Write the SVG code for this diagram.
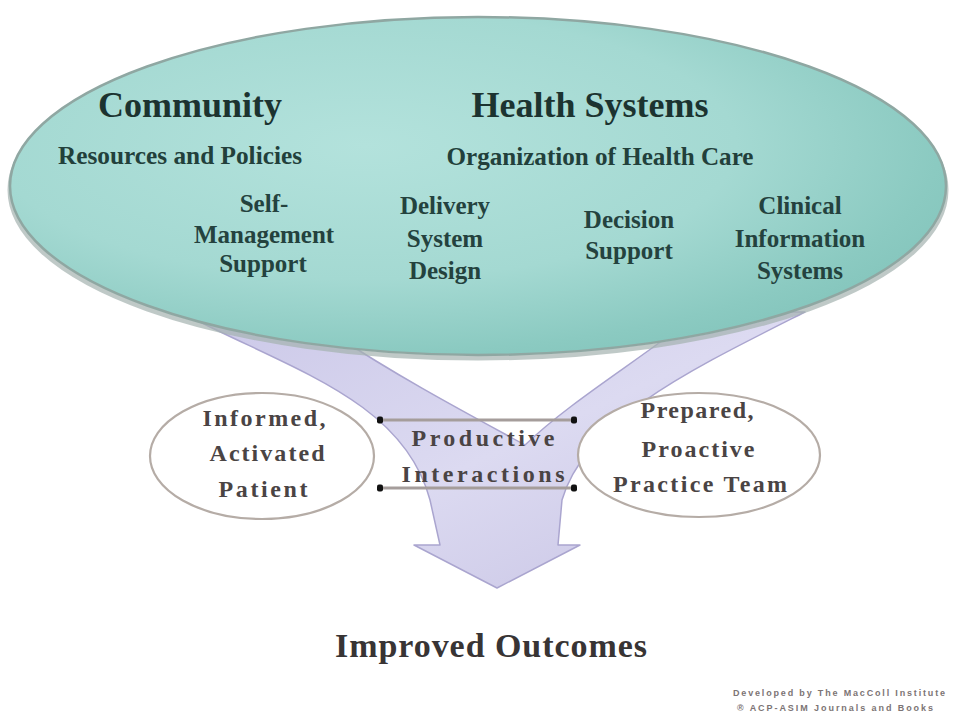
<svg xmlns="http://www.w3.org/2000/svg" width="953" height="715" viewBox="0 0 953 715">
  <defs>
    <radialGradient id="tealFill" cx="0.38" cy="0.38" r="0.72">
      <stop offset="0" stop-color="#b3e2dc"/>
      <stop offset="0.55" stop-color="#a4d9d2"/>
      <stop offset="0.85" stop-color="#8bcac1"/>
      <stop offset="0.97" stop-color="#84c5bc"/>
      <stop offset="1" stop-color="#a6d9d3"/>
    </radialGradient>
    <linearGradient id="lavFill" x1="0" y1="0" x2="1" y2="1">
      <stop offset="0" stop-color="#cbc8e8"/>
      <stop offset="0.5" stop-color="#dcdaf1"/>
      <stop offset="1" stop-color="#c6c2e3"/>
    </linearGradient>
    <marker id="dot" viewBox="0 0 8 8" refX="4" refY="4" markerWidth="8" markerHeight="8" markerUnits="userSpaceOnUse">
      <rect x="1" y="0.5" width="6" height="7" rx="2" fill="#111"/>
    </marker>
    <style>
      .head { font-family: "Liberation Serif", "Times New Roman", serif; font-weight: bold; fill: #1c3330; }
      .sub { font-family: "Liberation Serif", "Times New Roman", serif; font-weight: bold; fill: #22403b; font-size: 26px; }
      .inner { font-family: "Liberation Serif", "Times New Roman", serif; font-weight: bold; fill: #24423e; font-size: 25px; text-anchor: middle; }
      .oval { fill: #ffffff; stroke: #b5aca6; stroke-width: 2.2; }
      .lab { font-family: "Liberation Serif", "Times New Roman", serif; font-weight: bold; fill: #4a4444; font-size: 24px; text-anchor: middle; }
      .link { stroke: #a59d9b; stroke-width: 3; fill: none; marker-start: url(#dot); marker-end: url(#dot); }
      .foot { font-family: "Liberation Sans", Arial, sans-serif; font-size: 9px; font-weight: bold; fill: #7c7474; }
    </style>
  </defs>

  <rect width="953" height="715" fill="#ffffff"/>

  <!-- converging flow arrow, partly hidden under the top oval -->
  <g id="flow-arrow">
    <path d="M 200 322 C 300 372, 405 405, 430 500 L 440 545 L 414 545 L 497 588 L 580 545 L 558 545 L 562 500 C 585 420, 690 370, 805 312 L 700 312 C 640 360, 572 400, 525 445 C 470 415, 400 378, 335 335 Z"
          fill="url(#lavFill)" stroke="#aaa5cf" stroke-width="1.5" stroke-linejoin="round"/>
  </g>

  <!-- top oval: community and health systems -->
  <g id="systems">
    <ellipse cx="478" cy="190" rx="468" ry="168" fill="none" stroke="#a4b2af" stroke-width="5" opacity="0.7"/>
    <ellipse cx="478" cy="186" rx="468" ry="169" fill="url(#tealFill)" stroke="#8fa7a2" stroke-width="2.5"/>
    <text class="head" x="190" y="117" font-size="36" text-anchor="middle" textLength="184" lengthAdjust="spacingAndGlyphs">Community</text>
    <text class="head" x="590" y="117" font-size="36" text-anchor="middle" textLength="237" lengthAdjust="spacingAndGlyphs">Health Systems</text>
    <text class="sub" x="180" y="164" text-anchor="middle" textLength="244" lengthAdjust="spacingAndGlyphs">Resources and Policies</text>
    <text class="sub" x="600" y="165" text-anchor="middle" textLength="307" lengthAdjust="spacingAndGlyphs">Organization of Health Care</text>
  </g>

  <g id="self-management">
    <text class="inner" x="264" y="212">Self-</text>
    <text class="inner" x="264" y="243">Management</text>
    <text class="inner" x="263" y="272">Support</text>
  </g>
  <g id="delivery-system">
    <text class="inner" x="445" y="214">Delivery</text>
    <text class="inner" x="445" y="247">System</text>
    <text class="inner" x="445" y="279">Design</text>
  </g>
  <g id="decision-support">
    <text class="inner" x="629" y="228">Decision</text>
    <text class="inner" x="629" y="259">Support</text>
  </g>
  <g id="clinical-info">
    <text class="inner" x="800" y="214">Clinical</text>
    <text class="inner" x="800" y="247">Information</text>
    <text class="inner" x="800" y="279">Systems</text>
  </g>

  <!-- patient and practice team ovals -->
  <g id="patient">
    <ellipse class="oval" cx="262" cy="456" rx="112" ry="63"/>
    <text class="lab" x="264" y="426" textLength="123">Informed,</text>
    <text class="lab" x="267" y="461" textLength="115">Activated</text>
    <text class="lab" x="263" y="497" textLength="89">Patient</text>
  </g>
  <g id="practice-team">
    <ellipse class="oval" cx="699" cy="455" rx="121" ry="62"/>
    <text class="lab" x="697" y="418" textLength="113">Prepared,</text>
    <text class="lab" x="698" y="457" textLength="113">Proactive</text>
    <text class="lab" x="700" y="492" textLength="174">Practice Team</text>
  </g>

  <!-- interaction links between the two ovals -->
  <g id="connectors">
    <line class="link" x1="380" y1="420" x2="574" y2="420"/>
    <line class="link" x1="380" y1="488" x2="574" y2="488"/>
  </g>

  <g id="interactions">
    <text class="lab" x="483" y="446" textLength="143">Productive</text>
    <text class="lab" x="483" y="482" textLength="163">Interactions</text>
  </g>

  <g id="outcomes">
    <text class="head" x="491" y="657" font-size="34" text-anchor="middle" textLength="312" style="fill:#383434">Improved Outcomes</text>
  </g>

  <g id="credit">
    <text class="foot" x="733" y="696" textLength="212">Developed by The MacColl Institute</text>
    <text class="foot" x="737" y="711" textLength="196">® ACP-ASIM Journals and Books</text>
  </g>
</svg>
